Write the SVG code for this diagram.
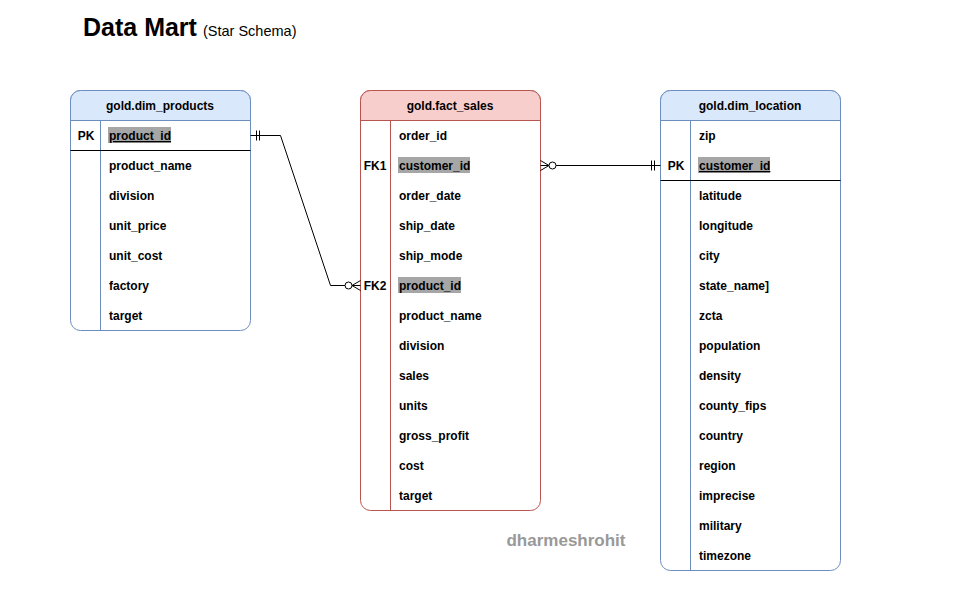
<svg xmlns="http://www.w3.org/2000/svg" width="960" height="600" viewBox="0 0 960 600">
<style>
text{font-family:"Liberation Sans",Arial,sans-serif;}
.t{font-size:12px;font-weight:bold;fill:#000;}
.h{font-size:12px;font-weight:bold;fill:#000;text-anchor:middle;}
.k{font-size:12px;font-weight:bold;fill:#000;text-anchor:middle;}
.bl{fill:#ffffff;stroke:#6c8ebf;stroke-width:1;}
.bh{fill:#dae8fc;stroke:#6c8ebf;stroke-width:1;}
.rl{fill:#ffffff;stroke:#b85450;stroke-width:1;}
.rh{fill:#f8cecc;stroke:#b85450;stroke-width:1;}
.ln{stroke:#000;stroke-width:1;fill:none;}
.hl{fill:#a6a6a6;}
.c{stroke:#000;stroke-width:1;fill:none;}
</style>
<rect width="960" height="600" fill="#ffffff"/>
<g id="title">
<text x="83" y="36" style="font-size:25px;font-weight:bold">Data Mart</text>
<text x="203" y="36" style="font-size:14.5px">(Star Schema)</text>
</g>
<g id="dim_products">
<rect class="bl" x="70.5" y="90.5" width="180" height="240" rx="10"/>
<path class="bh" d="M70.5,120.5 V100.5 A10,10 0 0 1 80.5,90.5 H240.5 A10,10 0 0 1 250.5,100.5 V120.5 Z"/>
<line class="bl" x1="70.5" y1="120.5" x2="250.5" y2="120.5"/>
<line class="bl" x1="100.5" y1="120.5" x2="100.5" y2="330.5"/>
<line class="ln" x1="70.5" y1="150.5" x2="250.5" y2="150.5"/>
<text class="h" x="160" y="110">gold.dim_products</text>
<text class="k" x="86" y="140">PK</text>
<rect class="hl" x="108" y="127" width="63" height="16"/>
<text class="t" x="109" y="140" text-decoration="underline">product_id</text>
<text class="t" x="109" y="170">product_name</text>
<text class="t" x="109" y="200">division</text>
<text class="t" x="109" y="230">unit_price</text>
<text class="t" x="109" y="260">unit_cost</text>
<text class="t" x="109" y="290">factory</text>
<text class="t" x="109" y="320">target</text>
</g>
<g id="fact_sales">
<rect class="rl" x="360.5" y="90.5" width="180" height="420" rx="10"/>
<path class="rh" d="M360.5,120.5 V100.5 A10,10 0 0 1 370.5,90.5 H530.5 A10,10 0 0 1 540.5,100.5 V120.5 Z"/>
<line class="rl" x1="390.5" y1="120.5" x2="390.5" y2="510.5"/>
<text class="h" x="450" y="110">gold.fact_sales</text>
<text class="t" x="399" y="140">order_id</text>
<text class="k" x="375" y="170">FK1</text>
<rect class="hl" x="398" y="157" width="72" height="16"/>
<text class="t" x="399" y="170">customer_id</text>
<text class="t" x="399" y="200">order_date</text>
<text class="t" x="399" y="230">ship_date</text>
<text class="t" x="399" y="260">ship_mode</text>
<text class="k" x="375" y="290">FK2</text>
<rect class="hl" x="398" y="277" width="63" height="16"/>
<text class="t" x="399" y="290">product_id</text>
<text class="t" x="399" y="320">product_name</text>
<text class="t" x="399" y="350">division</text>
<text class="t" x="399" y="380">sales</text>
<text class="t" x="399" y="410">units</text>
<text class="t" x="399" y="440">gross_profit</text>
<text class="t" x="399" y="470">cost</text>
<text class="t" x="399" y="500">target</text>
</g>
<g id="dim_location">
<rect class="bl" x="660.5" y="90.5" width="180" height="480" rx="10"/>
<path class="bh" d="M660.5,120.5 V100.5 A10,10 0 0 1 670.5,90.5 H830.5 A10,10 0 0 1 840.5,100.5 V120.5 Z"/>
<line class="bl" x1="690.5" y1="120.5" x2="690.5" y2="570.5"/>
<line class="ln" x1="660.5" y1="180.5" x2="840.5" y2="180.5"/>
<text class="h" x="750" y="110">gold.dim_location</text>
<text class="t" x="699" y="140">zip</text>
<text class="k" x="676" y="170">PK</text>
<rect class="hl" x="698" y="157" width="72" height="16"/>
<text class="t" x="699" y="170" text-decoration="underline">customer_id</text>
<text class="t" x="699" y="200">latitude</text>
<text class="t" x="699" y="230">longitude</text>
<text class="t" x="699" y="260">city</text>
<text class="t" x="699" y="290">state_name]</text>
<text class="t" x="699" y="320">zcta</text>
<text class="t" x="699" y="350">population</text>
<text class="t" x="699" y="380">density</text>
<text class="t" x="699" y="410">county_fips</text>
<text class="t" x="699" y="440">country</text>
<text class="t" x="699" y="470">region</text>
<text class="t" x="699" y="500">imprecise</text>
<text class="t" x="699" y="530">military</text>
<text class="t" x="699" y="560">timezone</text>
</g>
<g id="connectors">
<path class="c" d="M250.5,135.5 H280.5 L330.5,285.5 H360.5"/>
<line class="c" x1="256.5" y1="130.5" x2="256.5" y2="140.5"/>
<line class="c" x1="259.5" y1="130.5" x2="259.5" y2="140.5"/>
<circle cx="348.5" cy="285.5" r="3.5" fill="#fff" stroke="#000"/>
<path class="c" d="M360.5,280.5 L352,285.5 L360.5,290.5"/>
<path class="c" d="M540.5,165.5 H660.5"/>
<path class="c" d="M540.5,160.5 L549,165.5 L540.5,170.5"/>
<circle cx="552.5" cy="165.5" r="3.5" fill="#fff" stroke="#000"/>
<line class="c" x1="651.5" y1="160.5" x2="651.5" y2="170.5"/>
<line class="c" x1="654.5" y1="160.5" x2="654.5" y2="170.5"/>
</g>
<g id="watermark">
<text x="566" y="546" text-anchor="middle" style="font-size:17px;font-weight:bold;fill:#999999">dharmeshrohit</text>
</g>
</svg>
